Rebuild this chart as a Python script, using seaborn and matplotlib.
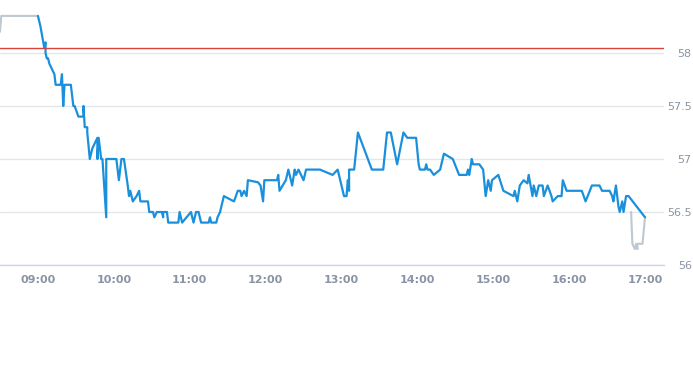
import numpy as np
import pandas as pd
import matplotlib
matplotlib.use("Agg")
import matplotlib.pyplot as plt
import matplotlib.dates as mdates
import seaborn as sns

# intraday trades (blue)
times = ["09:00", "09:02", "09:05", "09:06", "09:06", "09:07", "09:08", "09:09", "09:13", "09:14",
         "09:18", "09:19", "09:20", "09:21", "09:26", "09:27", "09:28", "09:29", "09:32", "09:36",
         "09:36", "09:37", "09:39", "09:39", "09:41", "09:43", "09:47", "09:47", "09:48", "09:50",
         "09:51", "09:54", "09:54", "10:02", "10:04", "10:06", "10:08", "10:11", "10:12", "10:13",
         "10:15", "10:18", "10:20", "10:21", "10:27", "10:28", "10:31", "10:32", "10:34", "10:38",
         "10:39", "10:39", "10:42", "10:43", "10:51", "10:52", "10:54", "11:01", "11:03", "11:05",
         "11:07", "11:09", "11:15", "11:16", "11:17", "11:21", "11:22", "11:24", "11:27", "11:35",
         "11:38", "11:40", "11:41", "11:43", "11:45", "11:46", "11:54", "11:56", "11:58", "11:59",
         "12:09", "12:10", "12:11", "12:16", "12:18", "12:21", "12:23", "12:24", "12:26", "12:30",
         "12:32", "12:43", "12:53", "12:57", "13:02", "13:04", "13:05", "13:06", "13:06", "13:10",
         "13:13", "13:24", "13:33", "13:36", "13:39", "13:44", "13:49", "13:52", "13:59", "14:01",
         "14:02", "14:06", "14:07", "14:08", "14:10", "14:13", "14:18", "14:21", "14:28", "14:33",
         "14:39", "14:40", "14:41", "14:43", "14:44", "14:49", "14:52", "14:54", "14:56", "14:58",
         "14:59", "15:04", "15:08", "15:16", "15:17", "15:19", "15:21", "15:24", "15:27", "15:28",
         "15:31", "15:32", "15:34", "15:36", "15:39", "15:40", "15:43", "15:46", "15:47", "15:51",
         "15:54", "15:55", "15:58", "16:10", "16:13", "16:18", "16:24", "16:26", "16:32", "16:34",
         "16:35", "16:37", "16:39", "16:40", "16:42", "16:43", "16:45", "16:46", "16:47", "17:00"]
prices = [58.35, 58.25, 58.05, 58.10, 58.00, 57.95, 57.95, 57.90, 57.80, 57.70,
          57.70, 57.80, 57.50, 57.70, 57.70, 57.60, 57.50, 57.50, 57.40, 57.40,
          57.50, 57.30, 57.30, 57.25, 57.00, 57.10, 57.20, 57.00, 57.20, 57.00,
          57.00, 56.45, 57.00, 57.00, 56.80, 57.00, 57.00, 56.75, 56.65, 56.70,
          56.60, 56.65, 56.70, 56.60, 56.60, 56.50, 56.50, 56.45, 56.50, 56.50,
          56.45, 56.50, 56.50, 56.40, 56.40, 56.50, 56.40, 56.50, 56.40, 56.50,
          56.50, 56.40, 56.40, 56.45, 56.40, 56.40, 56.45, 56.50, 56.65, 56.60,
          56.70, 56.70, 56.65, 56.70, 56.65, 56.80, 56.78, 56.75, 56.60, 56.80,
          56.80, 56.85, 56.70, 56.80, 56.90, 56.75, 56.90, 56.85, 56.90, 56.80,
          56.90, 56.90, 56.85, 56.90, 56.65, 56.65, 56.80, 56.70, 56.90, 56.90,
          57.25, 56.90, 56.90, 57.25, 57.25, 56.95, 57.25, 57.20, 57.20, 56.95,
          56.90, 56.90, 56.95, 56.90, 56.90, 56.85, 56.90, 57.05, 57.00, 56.85,
          56.85, 56.90, 56.85, 57.00, 56.95, 56.95, 56.90, 56.65, 56.80, 56.70,
          56.80, 56.85, 56.70, 56.65, 56.70, 56.60, 56.75, 56.80, 56.77, 56.85,
          56.65, 56.75, 56.65, 56.75, 56.75, 56.65, 56.75, 56.65, 56.60, 56.65,
          56.65, 56.80, 56.70, 56.70, 56.60, 56.75, 56.75, 56.70, 56.70, 56.65,
          56.60, 56.75, 56.55, 56.50, 56.60, 56.50, 56.65, 56.65, 56.65, 56.45]

# pre-open and closing auction (grey)
pre_times = ["08:30", "08:31", "09:00"]
pre_prices = [58.20, 58.35, 58.35]
post_times = ["16:49", "16:50", "16:52", "16:53", "16:54", "16:54", "16:58", "17:00"]
post_prices = [56.50, 56.20, 56.15, 56.20, 56.15, 56.20, 56.20, 56.45]

prev_close = 58.05

day = "2024-01-02 "
df = pd.DataFrame({"time": pd.to_datetime([day + t for t in times]), "price": prices})
pre = pd.DataFrame({"time": pd.to_datetime([day + t for t in pre_times]), "price": pre_prices})
post = pd.DataFrame({"time": pd.to_datetime([day + t for t in post_times]), "price": post_prices})

sns.set_style("white")
fig = plt.figure(figsize=(6.93, 3.65), dpi=100)
ax = fig.add_axes([0, 1 - 265 / 365, 664 / 693, 265 / 365])

grey = "#bfc8d0"
blue = "#1a90dc"
sns.lineplot(data=pre, x="time", y="price", ax=ax, color=grey, lw=1.5, estimator=None, sort=False)
sns.lineplot(data=post, x="time", y="price", ax=ax, color=grey, lw=1.5, estimator=None, sort=False)
sns.lineplot(data=df, x="time", y="price", ax=ax, color=blue, lw=1.6, estimator=None, sort=False)
ax.axhline(prev_close, color="#d9433a", lw=1, zorder=5)

ax.set_xlim(pd.Timestamp(day + "08:30"), pd.Timestamp(day + "17:15"))
ax.set_ylim(56, 58.5)
ax.set_yticks([56, 56.5, 57, 57.5, 58])
ax.set_yticklabels(["56", "56.5", "57", "57.5", "58"])
ax.yaxis.tick_right()
ax.grid(axis="y", color="#e3e6ea", lw=1)
ax.set_axisbelow(True)
ax.xaxis.set_major_locator(mdates.HourLocator(byhour=range(9, 18)))
ax.xaxis.set_major_formatter(mdates.DateFormatter("%H:%M"))
ax.set_xlabel("")
ax.set_ylabel("")

for s in ["top", "left", "right"]:
    ax.spines[s].set_visible(False)
ax.spines["bottom"].set_color("#ccd6eb")
ax.spines["bottom"].set_linewidth(1)

lab = "#8a94a4"
ax.tick_params(axis="x", colors="#ccd6eb", length=5, width=1, pad=2, labelsize=8, labelcolor=lab)
ax.tick_params(axis="y", length=0, pad=20, labelsize=8, labelcolor=lab)
for t in ax.get_xticklabels():
    t.set_fontweight("bold")
for t in ax.get_yticklabels():
    t.set_ha("right")

fig.savefig("out.png", dpi=100)
